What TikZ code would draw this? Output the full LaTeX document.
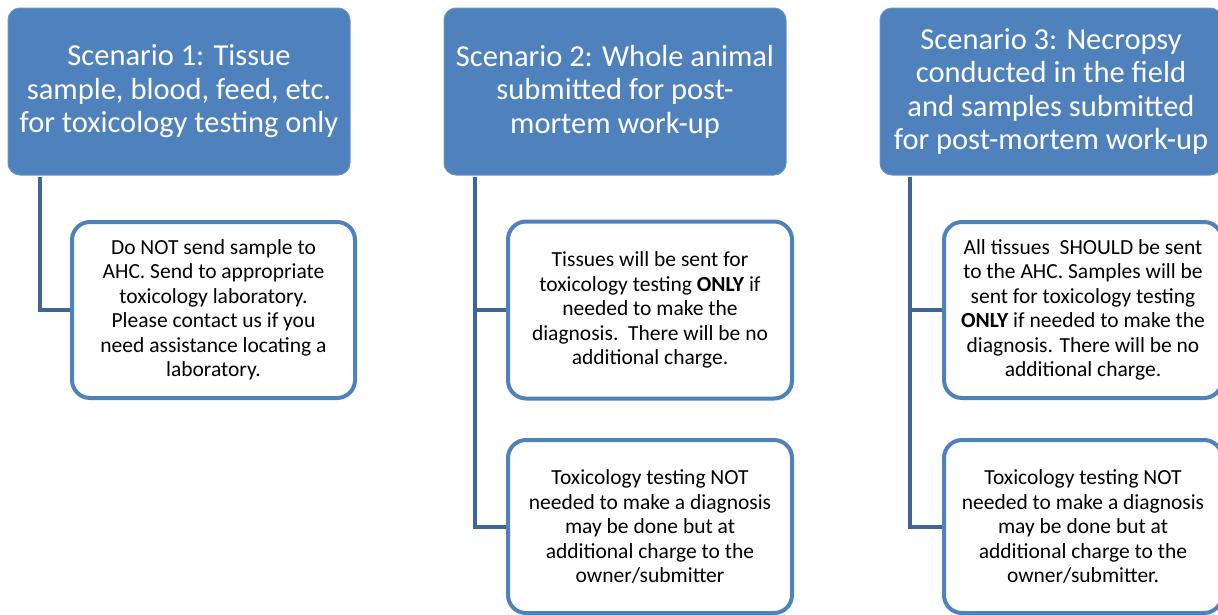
\documentclass[tikz,border=0pt]{standalone}
\usepackage{fontspec}
\setmainfont{Carlito}
\definecolor{hdrblue}{HTML}{4F81BD}
\definecolor{connblue}{HTML}{3E6596}
\begin{document}
\begin{tikzpicture}[x=1pt,y=-1pt,
  hdr/.style={fill=hdrblue, draw=hdrblue!85!white, line width=1pt, rounded corners=12pt,
    minimum width=342pt, minimum height=167pt, text=white, align=center,
    font=\fontsize{30.5}{33.5}\selectfont, inner sep=0pt},
  child/.style={fill=white, draw=hdrblue, line width=4pt, rounded corners=18pt,
    align=center, text=black, font=\fontsize{21.5}{24.5}\selectfont, inner sep=0pt},
  conn/.style={draw=connblue, line width=4pt}]
\useasboundingbox (0,0) rectangle (1218,614);
\node[hdr] (H1) at (179,91.5) {Scenario 1: Tissue\\sample, blood, feed, etc.\\for toxicology testing only};
\node[hdr] (H2) at (615,91.5) {Scenario 2: Whole animal\\submitted for post-\\mortem work-up};
\node[hdr] (H3) at (1051,91.5) {Scenario 3: Necropsy\\conducted in the field\\and samples submitted\\for post-mortem work-up};

\node[child, minimum width=283pt, minimum height=176pt] (C1) at (213.5,310)
  {Do NOT send sample to\\AHC. Send to appropriate\\toxicology laboratory.\\Please contact us if you\\need assistance locating a\\laboratory.};
\node[child, minimum width=284pt, minimum height=177pt] (C2a) at (650,310)
  {Tissues will be sent for\\toxicology testing \textbf{ONLY} if\\needed to make the\\diagnosis.\ \ There will be no\\additional charge.};
\node[child, minimum width=284pt, minimum height=173pt] (C2b) at (650,526.5)
  {Toxicology testing NOT\\needed to make a diagnosis\\may be done but at\\additional charge to the\\owner/submitter};
\node[child, minimum width=278pt, minimum height=176pt] (C3a) at (1083,310)
  {All tissues\ \ SHOULD be sent\\to the AHC. Samples will be\\sent for toxicology testing\\\textbf{ONLY} if needed to make the\\diagnosis. There will be no\\additional charge.};
\node[child, minimum width=278pt, minimum height=173pt] (C3b) at (1083,526.5)
  {Toxicology testing NOT\\needed to make a diagnosis\\may be done but at\\additional charge to the\\owner/submitter.};

\draw[conn] ([xshift=32pt,yshift=-1pt]H1.south west) |- (C1.west);
\draw[conn] ([xshift=31pt,yshift=-1pt]H2.south west) |- (C2b.west);
\draw[conn] ([xshift=31pt]H2.south west |- C2a.west) -- (C2a.west);
\draw[conn] ([xshift=30pt,yshift=-1pt]H3.south west) |- (C3b.west);
\draw[conn] ([xshift=30pt]H3.south west |- C3a.west) -- (C3a.west);
\end{tikzpicture}
\end{document}
